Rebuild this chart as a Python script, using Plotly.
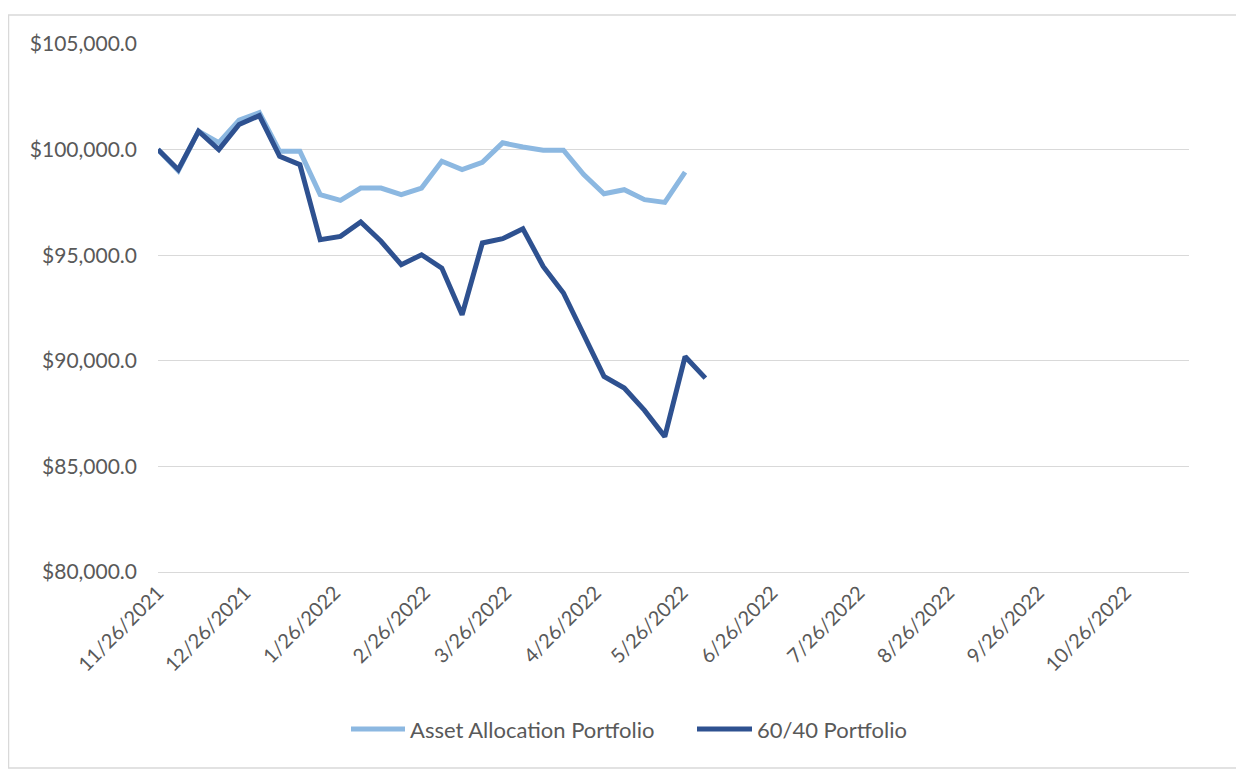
import plotly.graph_objects as go
import pandas as pd

# ---- data ----
start_date = "2021-11-26"
dates_6040 = pd.date_range(start_date, periods=28, freq="7D")
dates_asset = dates_6040[:27]

portfolio_6040 = [100000, 99050, 100870, 100000, 101190, 101610, 99680, 99290,
                  95730, 95890, 96570, 95660, 94550, 95020, 94390, 92180,
                  95580, 95780, 96250, 94470, 93210, 91230, 89260, 88710,
                  87650, 86410, 90200, 89180]

asset_allocation = [100000, 99000, 100870, 100330, 101390, 101750, 99920, 99920,
                    97870, 97600, 98180, 98180, 97870, 98180, 99450, 99050,
                    99400, 100320, 100120, 99970, 99970, 98820, 97910, 98100,
                    97630, 97500, 98930]

series_names = ["Asset Allocation Portfolio", "60/40 Portfolio"]

tick_dates = ["2021-11-26", "2021-12-26", "2022-01-26", "2022-02-26", "2022-03-26",
              "2022-04-26", "2022-05-26", "2022-06-26", "2022-07-26", "2022-08-26",
              "2022-09-26", "2022-10-26"]
tick_labels = ["11/26/2021", "12/26/2021", "1/26/2022", "2/26/2022", "3/26/2022",
               "4/26/2022", "5/26/2022", "6/26/2022", "7/26/2022", "8/26/2022",
               "9/26/2022", "10/26/2022"]

y_ticks = [80000, 85000, 90000, 95000, 100000, 105000]

# ---- styling ----
LIGHT = "#8CB8E1"
DARK = "#2E5190"
TEXT = "#595959"
GRID = "#D9D9D9"
FONT = "Lato"

OFF = 8  # page body margin
W, H = 1236, 770
L, R, T, B = 150, 55, 36, 206
pw, ph = W - L - R, H - T - B


def px_x(p):  # page px -> paper x
    return (p - OFF - L) / pw


def px_y(p):  # page px -> paper y
    return (H - B - (p - OFF)) / ph


fig = go.Figure()
fig.add_trace(go.Scatter(x=dates_asset, y=asset_allocation, mode="lines",
                         name=series_names[0], showlegend=False,
                         line=dict(color=LIGHT, width=5)))
fig.add_trace(go.Scatter(x=dates_6040, y=portfolio_6040, mode="lines",
                         name=series_names[1], showlegend=False,
                         line=dict(color=DARK, width=5)))

# chart border
fig.add_shape(type="rect", xref="paper", yref="paper",
              x0=px_x(8.6), x1=px_x(1237), y0=px_y(768), y1=px_y(15),
              line=dict(color=GRID, width=1.3), fillcolor="rgba(0,0,0,0)", layer="below")

# legend (drawn manually to match the wide line keys)
legend_y = px_y(729)
for name, color, x0, x1 in [(series_names[0], LIGHT, 351, 405),
                            (series_names[1], DARK, 697, 752)]:
    fig.add_shape(type="line", xref="paper", yref="paper",
                  x0=px_x(x0), x1=px_x(x1), y0=legend_y, y1=legend_y,
                  line=dict(color=color, width=5))
    fig.add_annotation(xref="paper", yref="paper", x=px_x(x1 + 3), y=legend_y,
                       xanchor="left", yanchor="middle", showarrow=False,
                       text=name, font=dict(family=FONT, size=22, color=TEXT))

fig.update_layout(
    width=W, height=H,
    margin=dict(l=L, r=R, t=T, b=B),
    paper_bgcolor="white", plot_bgcolor="white",
    font=dict(family=FONT, size=20, color=TEXT),
    showlegend=False,
    xaxis=dict(type="date", range=["2021-11-26", "2022-11-17"],
               tickvals=tick_dates, ticktext=tick_labels, tickangle=-45,
               showgrid=False, zeroline=False, showline=True, linecolor=GRID, linewidth=1.3,
               ticks="", tickfont=dict(family=FONT, size=20, color=TEXT)),
    yaxis=dict(range=[80000, 105000], tickvals=y_ticks, tickformat="$,.1f",
               showgrid=True, gridcolor=GRID, gridwidth=1.3, zeroline=False, showline=False,
               ticks="", ticklabelstandoff=20,
               tickfont=dict(family=FONT, size=21, color=TEXT)),
)

fig.write_html("out.html")
